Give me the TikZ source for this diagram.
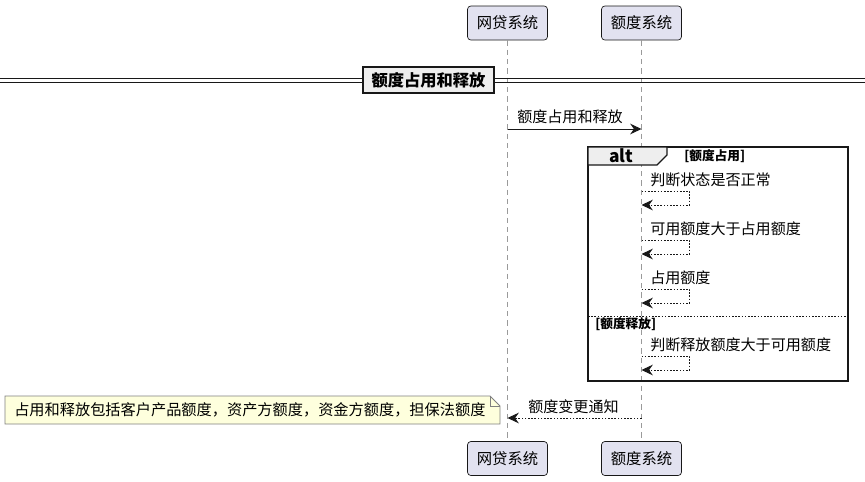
\documentclass[tikz,border=0pt]{standalone}
\usepackage{fontspec}
\setmainfont{Noto Sans CJK SC}
\usepackage{xcolor}
\usetikzlibrary{arrows.meta, positioning}
\definecolor{partfill}{HTML}{E2E2F0}
\definecolor{partstroke}{HTML}{181818}
\definecolor{lifegray}{HTML}{9A9A9A}
\definecolor{grpfill}{HTML}{EEEEEE}
\definecolor{notefill}{HTML}{FEFFDD}
\definecolor{notestroke}{HTML}{808080}
\tikzset{
    part/.style={rectangle, rounded corners=2.5pt, draw=partstroke, fill=partfill,
    line width=0.5pt, minimum width=60pt, minimum height=25.5pt, inner sep=0pt,
    font=\fontsize{11.5}{13}\selectfont},
    lifeline/.style={dash pattern=on 4pt off 3pt, lifegray, line width=0.6pt},
    msg/.style={-{Stealth[length=8.5pt, width=8pt, inset=2.8pt]}, line width=0.75pt, partstroke},
    reply/.style={msg, dash pattern=on 1.2pt off 1.2pt},
    msgtxt/.style={anchor=west, inner sep=0pt, font=\fontsize{11.3}{13}\selectfont},
    grdtxt/.style={anchor=west, inner sep=0pt, font=\bfseries\fontsize{9.5}{11}\selectfont},
    divbox/.style={rectangle, draw=partstroke, fill=grpfill, line width=1.2pt,
    minimum width=98pt, minimum height=19.5pt, inner sep=0pt, font=\bfseries\fontsize{12.2}{14}\selectfont},
}

\begin{document}
\begin{tikzpicture}[x=0.75pt, y=-0.75pt]
\useasboundingbox (0,0) rectangle (865,482);

% =========================================================
% Teilnehmer oben und unten, Lebenslinien
% =========================================================

        \node[part] (loanTop)  at (507.5, 23)   {网贷系统};
        \node[part] (quotaTop) at (641.5, 23)   {额度系统};
        \node[part] (loanBot)  at (507.5, 458.5) {网贷系统};
        \node[part] (quotaBot) at (641.5, 458.5) {额度系统};

        \draw[lifeline] (loanTop) -- (loanBot);
        \draw[lifeline] (quotaTop) -- (quotaBot);

% Trenner: 额度占用和释放
        \draw[line width=0.75pt, partstroke] (0,78) -- (865,78);
        \draw[line width=0.75pt, partstroke] (0,82) -- (865,82);
        \node[divbox] (divlbl) at (428.5,80) {额度占用和释放};

% Anfrage
        \coordinate (m1s) at (loanTop |- 0,129);
        \coordinate (m1e) at (quotaTop |- 0,129);
        \draw[msg] (m1s) -- (m1e);
        \node[msgtxt] (m1lbl) at (517,117) {额度占用和释放};

% =========================================================
% alt-Rahmen
% =========================================================

        \draw[line width=1pt, partstroke] (588,147) rectangle (848,381);
        \draw[line width=1pt, partstroke, fill=grpfill] (588,147) -- (667,147) -- (667,155) -- (657,165) -- (588,165) -- cycle;
        \node[font=\bfseries\fontsize{13}{14}\selectfont, inner sep=0pt] (altlbl) at (621,156) {alt};
        \node[grdtxt] (g1lbl) at (684,156) {[额度占用]};

% Zweig 1
        \node[msgtxt] (s1lbl) at (650,180) {判断状态是否正常};
        \coordinate (s1a) at (quotaTop |- 0,191);
        \coordinate (s1b) at (quotaTop |- 0,205);
        \draw[reply] (s1a) -- ++(48,0) |- (s1b);

        \node[msgtxt] (s2lbl) at (650,229) {可用额度大于占用额度};
        \coordinate (s2a) at (quotaTop |- 0,240);
        \coordinate (s2b) at (quotaTop |- 0,254);
        \draw[reply] (s2a) -- ++(48,0) |- (s2b);

        \node[msgtxt] (s3lbl) at (650,278) {占用额度};
        \coordinate (s3a) at (quotaTop |- 0,289);
        \coordinate (s3b) at (quotaTop |- 0,303);
        \draw[reply] (s3a) -- ++(48,0) |- (s3b);

% Zweig 2
        \draw[dash pattern=on 1.2pt off 1.2pt, line width=0.75pt, partstroke] (588,316) -- (848,316);
        \node[grdtxt] (g2lbl) at (595,324) {[额度释放]};

        \node[msgtxt] (s4lbl) at (650,345) {判断释放额度大于可用额度};
        \coordinate (s4a) at (quotaTop |- 0,356);
        \coordinate (s4b) at (quotaTop |- 0,370);
        \draw[reply] (s4a) -- ++(48,0) |- (s4b);

% =========================================================
% Rückmeldung und Notiz
% =========================================================

        \node[msgtxt] (r1lbl) at (528,407) {额度变更通知};
        \coordinate (r1s) at (quotaTop |- 0,418);
        \coordinate (r1e) at (loanTop |- 0,418);
        \draw[reply] (r1s) -- (r1e);

        \draw[line width=0.6pt, draw=notestroke, fill=notefill] (5,396) -- (490,396) -- (500,406) -- (500,424) -- (5,424) -- cycle;
        \draw[line width=0.6pt, draw=notestroke] (490,396) -- (490,406) -- (500,406);
        \node[msgtxt, font=\fontsize{11.4}{13}\selectfont] (notetxt) at (14,410) {占用和释放包括客户产品额度，资产方额度，资金方额度，担保法额度};

\end{tikzpicture}
\end{document}
